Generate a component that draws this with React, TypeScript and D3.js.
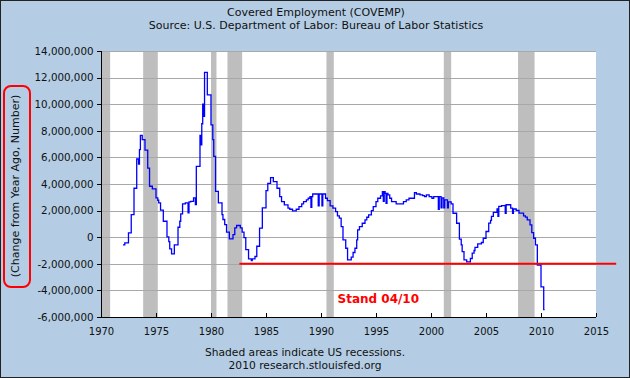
import React from "react";
import * as d3 from "d3";

const W = 630;
const H = 378;

const titleLines = [
  "Covered Employment (COVEMP)",
  "Source: U.S. Department of Labor: Bureau of Labor Statistics",
];
const footerLines = ["Shaded areas indicate US recessions.", "2010 research.stlouisfed.org"];
const yAxisLabel = "(Change from Year Ago, Number)";
const annotation = "Stand 04/10";

const xTickYears = [1970, 1975, 1980, 1985, 1990, 1995, 2000, 2005, 2010, 2015];
const yTicks = [-6e6, -4e6, -2e6, 0, 2e6, 4e6, 6e6, 8e6, 10e6, 12e6, 14e6];

const recessionStarts = ["1969-12", "1973-11", "1980-01", "1981-07", "1990-07", "2001-03", "2007-12"];
const recessionEnds = ["1970-11", "1975-03", "1980-07", "1982-11", "1991-03", "2001-11", "2009-06"];

// level changes of the series (millions, change from year ago)
const stepDates = [
  "1972-01", "1972-03", "1972-07", "1972-10", "1973-01", "1973-04", "1973-07", "1973-08", "1973-10",
  "1974-01", "1974-04", "1974-06", "1974-09", "1975-01", "1975-03", "1975-04", "1975-06", "1975-09",
  "1976-01", "1976-03", "1976-04", "1976-06", "1976-09", "1977-01", "1977-03", "1977-04", "1977-06",
  "1977-09", "1978-01", "1978-03", "1978-06", "1978-09", "1979-01", "1979-03", "1979-04", "1979-06",
  "1979-09", "1980-01", "1980-03", "1980-04", "1980-06", "1980-09", "1981-01", "1981-02", "1981-04",
  "1981-06", "1981-09", "1982-01", "1982-03", "1982-05", "1982-09", "1982-11", "1983-01", "1983-03",
  "1983-06", "1983-09", "1983-10", "1984-01", "1984-03", "1984-06", "1984-09", "1985-01", "1985-03",
  "1985-06", "1985-09", "1986-01", "1986-04", "1986-06", "1986-09", "1987-01", "1987-03", "1987-06",
  "1987-10", "1988-01", "1988-04", "1988-06", "1988-09", "1988-11", "1989-01", "1989-04", "1990-06",
  "1990-08", "1990-11", "1991-02", "1991-05", "1991-07", "1991-09", "1991-11", "1992-01", "1992-04",
  "1992-06", "1992-10", "1992-12", "1993-02", "1993-04", "1993-05", "1993-07", "1993-10", "1994-01",
  "1994-03", "1994-05", "1994-08", "1994-10", "1995-01", "1995-03", "1995-06", "1995-08", "1995-11",
  "1996-02", "1996-04", "1996-06", "1996-11", "1997-07", "1997-10", "1998-01", "1998-07", "1998-09",
  "1999-01", "1999-04", "1999-06", "1999-08", "1999-11", "2000-02", "2000-04", "2000-08", "2000-12",
  "2001-04", "2001-08", "2001-11", "2002-01", "2002-05", "2002-08", "2002-10", "2002-11", "2003-01",
  "2003-04", "2003-08", "2003-10", "2003-12", "2004-01", "2004-04", "2004-08", "2004-10", "2005-01",
  "2005-04", "2005-06", "2005-07", "2005-09", "2006-01", "2006-03", "2006-06", "2006-10", "2007-04",
  "2007-07", "2007-10", "2008-01", "2008-06", "2008-08", "2008-10", "2009-01", "2009-03", "2009-05",
  "2009-07", "2009-09", "2010-01", "2010-04",
];
const stepValues = [
  -0.58, -0.43, 0.33, 1.7, 3.68, 5.88, 6.58, 7.65, 7.33,
  6.55, 5.2, 3.83, 3.63, 2.95, 2.78, 2.58, 2.03, 1.2,
  0.03, -0.33, -0.88, -1.25, -0.58, 0.75, 1.2, 1.75, 2.5,
  2.58, 2.65, 2.7, 2.95, 5.33, 7.65, 8.53, 10.0, 12.4,
  10.7, 8.45, 7.33, 6.08, 3.45, 2.58, 1.7, 1.33, 0.95,
  0.38, -0.13, 0.2, 0.7, 0.88, 0.7, 0.38, -0.03, -0.93,
  -1.63, -1.75, -1.63, -1.45, -0.68, 0.68, 2.2, 3.5, 4.05,
  4.48, 4.18, 3.68, 3.05, 2.68, 2.43, 2.18, 2.1, 1.98,
  2.1, 2.3, 2.5, 2.68, 2.8, 2.93, 3.05, 3.25, 2.93,
  2.75, 2.35, 2.18, 1.93, 1.6, 1.43, 0.8, -0.2, -0.83,
  -1.7, -1.5, -1.15, -0.83, -0.2, 0.55, 0.8, 1.05, 1.3,
  1.5, 1.68, 2.0, 2.3, 2.68, 2.93, 3.1, 3.43, 3.3,
  3.18, 2.93, 2.68, 2.5, 2.68, 2.8, 2.93, 3.35, 3.25,
  3.18, 3.13, 3.05, 3.18, 3.05, 2.93, 3.05, 3.05, 2.95,
  2.8, 2.65, 2.5, 1.8, 1.05, -0.15, -0.58, -1.08, -1.7,
  -1.86, -1.6, -1.2, -1.0, -0.76, -0.5, -0.4, -0.08, 0.43,
  1.06, 1.26, 1.56, 1.86, 2.12, 2.32, 2.37, 2.44, 2.19,
  2.12, 2.02, 1.81, 1.61, 1.51, 1.31, 0.93, 0.35, -0.08,
  -0.58, -2.09, -3.73, -5.44,
];
// single-month dips
const spikeDates = [
  "1973-06", "1977-12", "1978-08", "1979-02", "1979-05", "1989-02", "1989-10", "1990-02",
  "1995-09", "1995-12", "2000-09", "2000-12", "2001-03", "2001-07", "2006-02", "2006-10", "2007-06",
];
const spikeValues = [5.5, 1.83, 2.45, 6.95, 9.08, 2.25, 2.35, 2.35, 2.7, 2.55, 2.1, 2.2, 2.2, 2.2, 1.56, 1.8, 1.8];
const seriesEnd = "2010-05";

const thresholdValue = -2e6;
const thresholdStart = "1982-08";
const thresholdEnd = "2016-11";

const parse = d3.timeParse("%Y-%m");

export default function App() {
  const left = 101, right = 596, top = 51, bottom = 317;
  const x = d3.scaleTime().domain([new Date(1970, 0, 1), new Date(2015, 0, 1)]).range([left, right]);
  const y = d3.scaleLinear().domain([-6e6, 14e6]).range([bottom, top]);
  const fmt = (v: number) => d3.format(",")(v).replace("\u2212", "-");

  const main = stepDates.map((d, i) => ({ t: parse(d) as Date, v: stepValues[i] * 1e6, o: 1 }));
  const levelAt = (t: Date) => {
    let v = main[0].v;
    for (const p of main) if (p.t <= t) v = p.v;
    return v;
  };
  const extra: { t: Date; v: number; o: number }[] = [];
  spikeDates.forEach((d, i) => {
    const t = parse(d) as Date;
    const t2 = d3.timeMonth.offset(t, 1);
    extra.push({ t, v: spikeValues[i] * 1e6, o: 2 });
    extra.push({ t: t2, v: levelAt(t2), o: 3 });
  });
  const pts = main.concat(extra).sort((a, b) => +a.t - +b.t || a.o - b.o);
  pts.push({ t: parse(seriesEnd) as Date, v: main[main.length - 1].v, o: 4 });

  const line = d3
    .line<{ t: Date; v: number }>()
    .x((d) => x(d.t))
    .y((d) => y(d.v))
    .curve(d3.curveStepAfter);

  const font = "DejaVu Sans, Verdana, sans-serif";
  const xMin = new Date(1970, 0, 1);

  return (
    <svg width={W} height={H} style={{ position: "fixed", left: 0, top: 0 }} fontFamily={font}>
      <rect x={0} y={0} width={W} height={H} fill="#B4CDE4" />
      <rect x={0.5} y={0.5} width={W - 1} height={H - 1} fill="none" stroke="#222" />
      {titleLines.map((s, i) => (
        <text key={s} x={316} y={15.5 + i * 13.5} textAnchor="middle" fontSize={11} fill="#111">
          {s}
        </text>
      ))}
      <rect x={left} y={top} width={right - left} height={bottom - top} fill="#fff" />
      {recessionStarts.map((s, i) => {
        const a = x(d3.max([parse(s) as Date, xMin]) as Date);
        const b = x(parse(recessionEnds[i]) as Date);
        return <rect key={s} x={a} y={top} width={b - a} height={bottom - top} fill="#BEBEBE" />;
      })}
      {yTicks.map((t) => (
        <g key={t}>
          <line x1={left} x2={right} y1={Math.round(y(t)) + 0.5} y2={Math.round(y(t)) + 0.5} stroke="#A8A8A8" />
          <line x1={left - 4} x2={left} y1={Math.round(y(t)) + 0.5} y2={Math.round(y(t)) + 0.5} stroke="#000" />
          <text x={93.5} y={y(t) + 3.7} textAnchor="end" fontSize={10.3} fill="#111">
            {fmt(t)}
          </text>
        </g>
      ))}
      {xTickYears.map((yr) => {
        const px = Math.round(x(new Date(yr, 0, 1))) + 0.5;
        return (
          <g key={yr}>
            <line x1={px} x2={px} y1={bottom} y2={bottom - 4} stroke="#000" />
            <text x={px} y={334.5} textAnchor="middle" fontSize={10} fill="#111">
              {yr}
            </text>
          </g>
        );
      })}
      <line x1={left + 0.5} x2={left + 0.5} y1={top} y2={bottom} stroke="#000" />
      <line x1={left} x2={right} y1={bottom + 0.5} y2={bottom + 0.5} stroke="#000" />
      <path d={line(pts) || ""} fill="none" stroke="#0000FF" strokeWidth={1.3} />
      <line
        x1={x(parse(thresholdStart) as Date)}
        x2={x(parse(thresholdEnd) as Date)}
        y1={y(thresholdValue)}
        y2={y(thresholdValue)}
        stroke="#FF0000"
        strokeWidth={2}
      />
      <text x={337.5} y={302.5} fontSize={12} fontWeight="bold" fill="#FF0000">
        {annotation}
      </text>
      <rect x={4} y={86} width={26} height={201} rx={7} ry={7} fill="none" stroke="#FF0000" strokeWidth={2} />
      <text transform="translate(19,186) rotate(-90)" textAnchor="middle" fontSize={11} fill="#111">
        {yAxisLabel}
      </text>
      {footerLines.map((s, i) => (
        <text key={s} x={305} y={355.5 + i * 13.5} textAnchor="middle" fontSize={10.7} fill="#111">
          {s}
        </text>
      ))}
    </svg>
  );
}
